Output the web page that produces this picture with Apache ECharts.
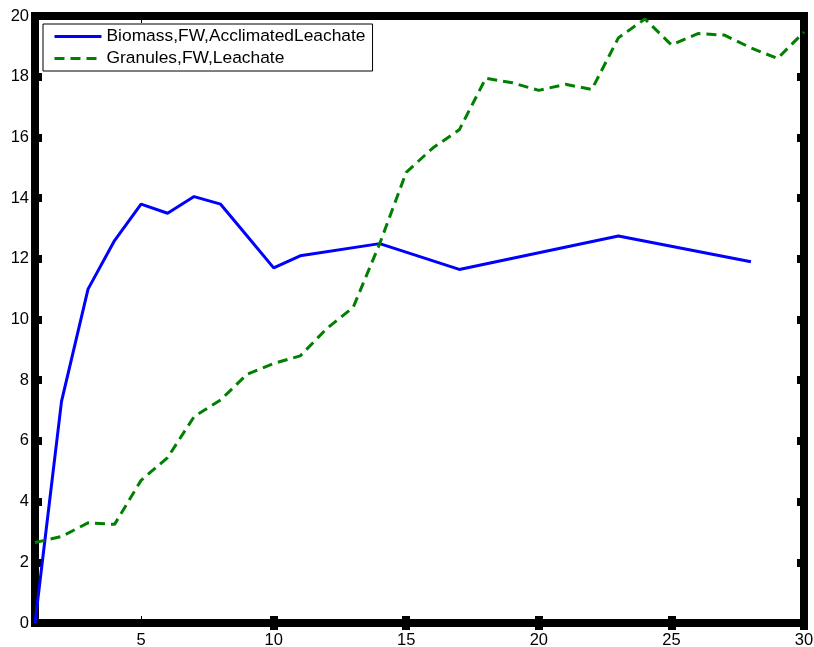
<!DOCTYPE html>
<html>
<head>
<meta charset="utf-8">
<script src="https://cdn.jsdelivr.net/npm/echarts@6/dist/echarts.min.js"></script>
<style>
html,body{margin:0;padding:0;background:#fff;}
#chart{width:814px;height:647px;}
</style>
</head>
<body>
<div id="chart"></div>
<script>
const seriesNames = ['Biomass,FW,AcclimatedLeachate', 'Granules,FW,Leachate'];
const blueX = [1, 2, 3, 4, 5, 6, 7, 8, 9, 10, 11, 14, 17, 23, 28];
const blueY = [0, 7.3, 11.0, 12.6, 13.8, 13.5, 14.05, 13.8, 12.75, 11.7, 12.1, 12.5, 11.65, 12.75, 11.9];
const greenX = [1, 2, 3, 4, 5, 6, 7, 8, 9, 10, 11, 12, 13, 14, 15, 16, 17, 18, 19, 20, 21, 22, 23, 24, 25, 26, 27, 28, 29, 30];
const greenY = [2.65, 2.85, 3.3, 3.25, 4.7, 5.45, 6.8, 7.35, 8.2, 8.55, 8.8, 9.7, 10.4, 12.5, 14.85, 15.65, 16.25, 17.95, 17.8, 17.55, 17.75, 17.58, 19.28, 19.9, 19.05, 19.42, 19.37, 18.95, 18.6, 19.47];
const xLabels = [5, 10, 15, 20, 25, 30];
const xThickTicks = [10, 15, 20, 25, 30];
const xThinTicks = [5];
const xMin = 1, xMax = 30;
const yMin = 0, yMax = 20, yStep = 2;

const chart = echarts.init(document.getElementById('chart'), null, {renderer: 'canvas'});
const font = 'Liberation Sans, Arial, Helvetica, sans-serif';
const thick = {show: true, inside: true, length: 7, lineStyle: {color: '#000', width: 8}};
const thin = {show: true, inside: true, length: 7, lineStyle: {color: '#000', width: 1}};

function pairs(xs, ys) { return xs.map((x, i) => [x, ys[i]]); }
function xAx(pos, ticks, tickStyle, labels) {
  return {type: 'value', min: xMin, max: xMax, position: pos,
    axisLine: {show: false}, splitLine: {show: false},
    axisTick: Object.assign({customValues: ticks}, tickStyle),
    axisLabel: labels ? {customValues: labels, color: '#000', fontSize: 16.5, fontFamily: font, margin: 9} : {show: false}};
}

chart.setOption({
  animation: false,
  backgroundColor: '#fff',
  grid: {left: 35, right: 10, top: 16, bottom: 24, containLabel: false, outerBoundsMode: 'none',
         show: true, borderColor: '#000', borderWidth: 8, backgroundColor: '#fff'},
  legend: {
    left: 43, top: 24, orient: 'vertical',
    backgroundColor: '#fff', borderColor: '#000', borderWidth: 1,
    padding: [4, 7, 4, 10], itemGap: 5, itemWidth: 47, itemHeight: 16,
    itemStyle: {opacity: 0},
    lineStyle: {width: 3},
    textStyle: {fontSize: 17.4, color: '#000', fontFamily: font},
    data: seriesNames
  },
  xAxis: [
    xAx('bottom', xThickTicks, thick, xLabels),
    xAx('top', xThickTicks, thick, null),
    xAx('bottom', xThinTicks, thin, null),
    xAx('top', xThinTicks, thin, null)
  ],
  yAxis: [
    {type: 'value', min: yMin, max: yMax, interval: yStep, position: 'left',
     axisLine: {show: false}, splitLine: {show: false},
     axisTick: thick,
     axisLabel: {color: '#000', fontSize: 16.5, fontFamily: font, margin: 6}},
    {type: 'value', min: yMin, max: yMax, interval: yStep, position: 'right',
     axisLine: {show: false}, splitLine: {show: false},
     axisTick: thick,
     axisLabel: {show: false}}
  ],
  series: [
    {name: seriesNames[0], type: 'line', data: pairs(blueX, blueY), symbol: 'none',
     lineStyle: {color: '#0000ff', width: 3}, itemStyle: {color: '#0000ff'}},
    {name: seriesNames[1], type: 'line', data: pairs(greenX, greenY), symbol: 'none',
     lineStyle: {color: '#008000', width: 3, type: [10, 6]}, itemStyle: {color: '#008000'}}
  ]
});
</script>
</body>
</html>
